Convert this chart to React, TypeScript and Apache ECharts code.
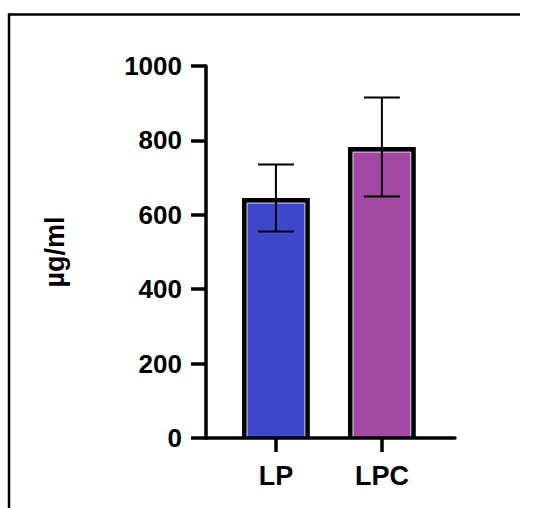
import React, { useEffect, useRef } from "react";
import * as echarts from "echarts";

const categories = ["LP", "LPC"];
const means = [645, 782];
const errors = [90, 133];
const barColors = ["#3F48CC", "#A349A4"];

const FONT = "Arial, 'Liberation Sans', sans-serif";

export default function App() {
  const ref = useRef<HTMLDivElement>(null);
  useEffect(() => {
    if (!ref.current) return;
    const chart = echarts.init(ref.current, null, { renderer: "svg" });
    const data = categories.map((_, i) => [i, means[i], errors[i]]);
    const renderItem = (params: any, api: any) => {
      const i = api.value(0);
      const m = api.value(1);
      const e = api.value(2);
      const base = api.coord([i, 0]);
      const top = api.coord([i, m]);
      const hi = api.coord([i, m + e]);
      const lo = api.coord([i, m - e]);
      const w = api.size([0.64, 0])[0];
      const cap = api.size([0.34, 0])[0];
      const bw = 5;
      const cx = top[0];
      return {
        type: "group",
        children: [
          {
            type: "rect",
            shape: { x: cx - w / 2, y: top[1], width: w, height: base[1] - top[1] },
            style: { fill: "#000" },
          },
          {
            type: "rect",
            shape: {
              x: cx - w / 2 + bw,
              y: top[1] + bw,
              width: w - 2 * bw,
              height: base[1] - top[1] - bw,
            },
            style: { fill: barColors[i], stroke: "#d6d6e6", lineWidth: 1 },
          },
          {
            type: "line",
            shape: { x1: cx, y1: hi[1], x2: cx, y2: lo[1] },
            style: { stroke: "#000", lineWidth: 2 },
          },
          {
            type: "line",
            shape: { x1: cx - cap / 2, y1: hi[1], x2: cx + cap / 2, y2: hi[1] },
            style: { stroke: "#000", lineWidth: 2 },
          },
          {
            type: "line",
            shape: { x1: cx - cap / 2, y1: lo[1], x2: cx + cap / 2, y2: lo[1] },
            style: { stroke: "#000", lineWidth: 2 },
          },
        ],
      };
    };
    chart.setOption({
      animation: false,
      backgroundColor: "#fff",
      graphic: [
        {
          type: "line",
          shape: { x1: 9, y1: 14.5, x2: 520, y2: 14.5 },
          style: { stroke: "#000", lineWidth: 2.5 },
          z: 10,
        },
        {
          type: "line",
          shape: { x1: 9, y1: 13.25, x2: 9, y2: 508 },
          style: { stroke: "#000", lineWidth: 2.5 },
          z: 10,
        },
      ],
      grid: { left: 206, right: 78, top: 66, bottom: 70 },
      xAxis: {
        type: "value",
        min: -0.66,
        max: 1.69,
        z: 5,
        splitLine: { show: false },
        axisLine: { show: true, onZero: false, lineStyle: { color: "#000", width: 3.5 } },
        axisTick: {
          show: true,
          length: 14,
          customValues: [0, 1],
          lineStyle: { color: "#000", width: 3.5 },
        },
        axisLabel: {
          customValues: [0, 1],
          formatter: (v: number) => categories[Math.round(v)] ?? "",
          color: "#000",
          fontFamily: FONT,
          fontWeight: "bold",
          fontSize: 27,
          margin: 24,
        },
      },
      yAxis: {
        type: "value",
        min: 0,
        max: 1000,
        interval: 200,
        z: 5,
        name: "µg/ml",
        nameLocation: "middle",
        nameRotate: 90,
        nameGap: 138,
        nameTextStyle: {
          color: "#000",
          fontFamily: FONT,
          fontWeight: "bold",
          fontSize: 27,
        },
        splitLine: { show: false },
        axisLine: { show: true, onZero: false, lineStyle: { color: "#000", width: 3.5 } },
        axisTick: { show: true, length: 15, lineStyle: { color: "#000", width: 3.5 } },
        axisLabel: {
          formatter: (v: number) => String(v),
          color: "#000",
          fontFamily: FONT,
          fontWeight: "bold",
          fontSize: 26,
          margin: 24,
        },
      },
      series: [
        {
          type: "custom",
          renderItem,
          data,
          encode: { x: 0, y: 1 },
          clip: false,
          z: 2,
        },
      ],
    });
    return () => chart.dispose();
  }, []);
  return (
    <div
      ref={ref}
      style={{
        position: "absolute",
        left: 0,
        top: 0,
        width: 533,
        height: 508,
        overflow: "hidden",
      }}
    />
  );
}
